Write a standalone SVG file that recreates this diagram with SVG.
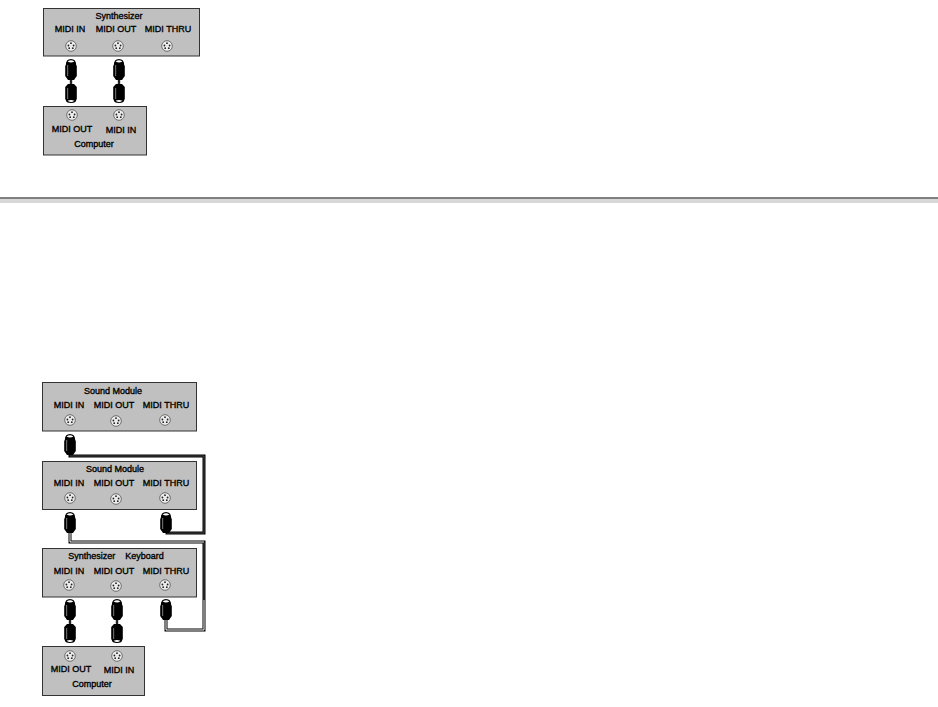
<svg xmlns="http://www.w3.org/2000/svg" width="938" height="707" viewBox="0 0 938 707">
<defs>
<g id="jack"><circle r="5.300" fill="#ececec" stroke="#555" stroke-width="0.8"/><circle cx="-2.600" cy="-0.500" r="0.900" fill="#222"/><circle cx="2.600" cy="-0.500" r="0.900" fill="#222"/><circle cx="0" cy="-2.800" r="0.900" fill="#222"/><circle cx="-1.800" cy="2.200" r="0.900" fill="#222"/><circle cx="1.800" cy="2.200" r="0.900" fill="#222"/></g>
<g id="plugD"><path d="M-5.200 3Q-5.200 -3 0 -3Q5.200 -3 5.200 3L5.800 4V14L3 18H-3L-5.800 14V4Z" fill="#000"/><path d="M-3.400 -0.500Q0 -3.200 3.400 -0.500Q0 1.300 -3.400 -0.500Z" fill="#fff"/><path d="M-4 3H-2.800V14H-4Z" fill="#666"/></g>
<g id="plugU"><path d="M-3 -16H3L5.800 -13V-1L5.200 0Q5.200 3 0 3Q-5.200 3 -5.200 0L-5.800 -1V-13Z" fill="#000"/><path d="M-3.400 0.800Q0 3.200 3.400 0.800Q0 -0.800 -3.400 0.800Z" fill="#fff"/><path d="M-4 -12H-2.800V-1H-4Z" fill="#666"/></g>
</defs>
<style>
.box{fill:#c0c0c0;stroke:#333;stroke-width:1}
text{font-family:"Liberation Sans",Arial,sans-serif;font-size:9px;fill:#000;text-anchor:middle;stroke:#000;stroke-width:.35}
.w{fill:none;stroke:#000;stroke-width:3}
.wi{fill:none;stroke:#fff;stroke-width:1}
.wg{fill:none;stroke:#666;stroke-width:.7}
.g{fill:none;stroke:#222;stroke-width:2.400}
</style>
<g id="divider"><rect x="0" y="197" width="938" height="2" fill="#808080"/><rect x="0" y="199" width="938" height="4" fill="#d8d8d8"/></g>
<g id="connectors">
<path class="g" d="M71 76V90M119 76V90M70 614V632M117 614V632"/>
<path class="w" d="M70 448V456H204V533H167V525"/>
<path class="w" d="M70 525V542H204V630H166V612"/>
<path class="wi" d="M70 448V454"/>
<path class="wg" d="M70 456H204V533H167"/>
<path class="wi" d="M70 525V542H204"/>
<path class="wg" d="M204 542V600"/>
<path class="wi" d="M204 600V630H166V612"/>
<use href="#plugD" x="71" y="62"/><use href="#plugD" x="119" y="62"/>
<use href="#plugU" x="71" y="100"/><use href="#plugU" x="119" y="100"/>
<use href="#plugD" x="70" y="437"/><use href="#plugD" x="70" y="515"/><use href="#plugD" x="166" y="515"/>
<use href="#plugD" x="70" y="602"/><use href="#plugD" x="117" y="602"/><use href="#plugD" x="166" y="602"/>
<use href="#plugU" x="70" y="640"/><use href="#plugU" x="117" y="640"/>
</g>
<g id="synth"><rect class="box" x="43.500" y="8.500" width="156" height="47.500"/><text x="119" y="19">Synthesizer</text><text x="70" y="32">MIDI IN</text><text x="116" y="32">MIDI OUT</text><text x="168" y="32">MIDI THRU</text><use href="#jack" x="71" y="46"/><use href="#jack" x="118" y="46"/><use href="#jack" x="167" y="46"/></g>
<g id="computer1"><rect class="box" x="43.500" y="106.500" width="103" height="48.500"/><use href="#jack" x="72" y="115"/><use href="#jack" x="119" y="115"/><text x="72" y="132">MIDI OUT</text><text x="121" y="133">MIDI IN</text><text x="94" y="147">Computer</text></g>
<g id="module1"><rect class="box" x="42.500" y="382.500" width="154" height="48.500"/><text x="113" y="394">Sound Module</text><text x="69" y="408">MIDI IN</text><text x="114" y="408">MIDI OUT</text><text x="166" y="408">MIDI THRU</text><use href="#jack" x="70" y="420"/><use href="#jack" x="116" y="421"/><use href="#jack" x="165" y="420"/></g>
<g id="module2"><rect class="box" x="42.500" y="461.500" width="154" height="48"/><text x="115" y="472">Sound Module</text><text x="69" y="486">MIDI IN</text><text x="114" y="486">MIDI OUT</text><text x="166" y="486">MIDI THRU</text><use href="#jack" x="70" y="498"/><use href="#jack" x="116" y="499"/><use href="#jack" x="165" y="498"/></g>
<g id="keyboard"><rect class="box" x="42.500" y="548.500" width="154" height="48.500"/><text x="116" y="559" xml:space="preserve">Synthesizer    Keyboard</text><text x="69" y="574">MIDI IN</text><text x="114" y="574">MIDI OUT</text><text x="166" y="574">MIDI THRU</text><use href="#jack" x="69" y="585"/><use href="#jack" x="116" y="586"/><use href="#jack" x="165" y="585"/></g>
<g id="computer2"><rect class="box" x="42.500" y="646.500" width="102" height="49"/><use href="#jack" x="70" y="656"/><use href="#jack" x="117" y="656"/><text x="71" y="672">MIDI OUT</text><text x="119" y="673">MIDI IN</text><text x="92" y="687">Computer</text></g>
</svg>
